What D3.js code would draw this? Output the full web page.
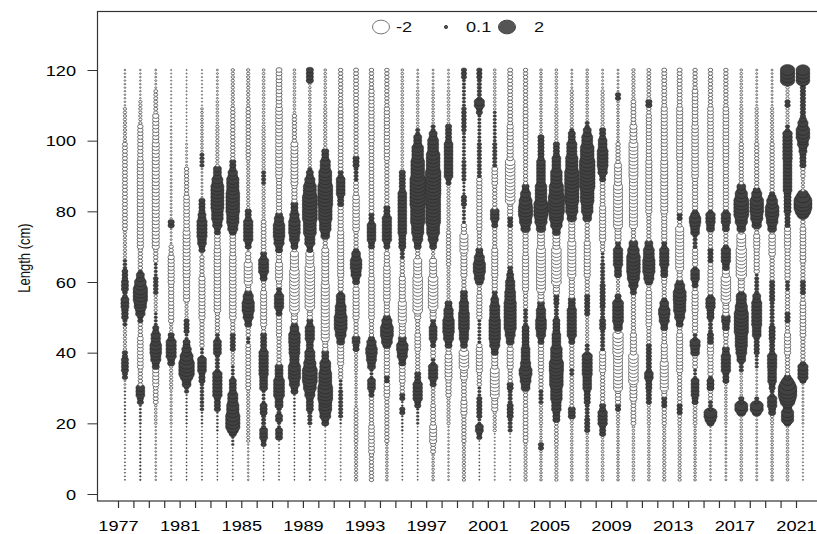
<!DOCTYPE html>
<html>
<head>
<meta charset="utf-8">
<script src="https://cdn.jsdelivr.net/npm/d3@7"></script>
<style>
  body { margin: 0; background: #fff; }
  svg { display: block; font-family: "Liberation Sans", Arial, sans-serif; }
</style>
</head>
<body>
<div class="chart"></div>
<script>
// Bubble plot of length-composition residuals, 1977-2021
var years = [1977, 1978, 1979, 1980, 1981, 1982, 1983, 1984, 1985, 1986, 1987, 1988, 1989, 1990, 1991,
    1992, 1993, 1994, 1995, 1996, 1997, 1998, 1999, 2000, 2001, 2002, 2003, 2004, 2005, 2006,
    2007, 2008, 2009, 2010, 2011, 2012, 2013, 2014, 2015, 2016, 2017, 2018, 2019, 2020, 2021];
var yearLabels = [1977, 1981, 1985, 1989, 1993, 1997, 2001, 2005, 2009, 2013, 2017, 2021];
var lengthTicks = [0, 20, 40, 60, 80, 100, 120];
var lengthBins = d3.range(4, 121);          // 1 cm length classes
var legendValues = [-2, 0.1, 2];

// residuals, per year, as [from length (cm), residual] steps
var residualSteps = [
  [[4,0.05],[20,0.08],[30,-0.1],[33,0.4],[35,0.6],[39,0.4],[41,-0.2],[48,0.3],[50,0.55],[53,0.7],[56,0.35],[58,0.6],[61,0.45],[64,0.25],[67,-0.2],[75,-0.35],[100,-0.2],[110,-0.08]],
  [[4,0.08],[20,0.12],[26,0.5],[28,0.8],[31,-0.3],[36,-0.45],[45,-0.3],[49,0.4],[51,0.9],[53,1.3],[55,1.6],[59,1.2],[61,0.7],[63,0.3],[64,-0.3],[70,-0.5],[95,-0.4],[105,-0.2],[112,-0.08]],
  [[4,-0.08],[20,-0.15],[26,-0.35],[31,-0.5],[36,0.6],[38,1.0],[40,1.2],[43,0.9],[46,0.5],[48,0.2],[52,-0.2],[57,0.35],[62,0.2],[66,-0.3],[70,-0.6],[100,-0.5],[108,-0.25],[115,-0.1]],
  [[4,-0.06],[20,-0.12],[30,-0.2],[37,0.6],[39,1.0],[44,0.5],[46,-0.2],[49,-0.4],[60,-0.5],[68,-0.3],[71,-0.1],[76,0.5],[78,-0.1],[90,-0.08],[105,-0.05]],
  [[4,0.05],[20,0.08],[29,0.3],[31,0.8],[33,1.3],[34,1.8],[38,1.4],[40,0.9],[42,0.6],[44,0.2],[46,0.4],[50,-0.2],[55,-0.5],[62,-0.6],[75,-0.45],[85,-0.3],[93,-0.1],[100,-0.05]],
  [[4,0.05],[20,0.1],[24,0.25],[32,0.5],[35,0.8],[39,0.2],[42,-0.3],[50,-0.5],[62,-0.3],[68,-0.1],[69,0.5],[71,0.8],[73,1.0],[78,0.7],[80,0.5],[84,-0.1],[93,0.3],[97,-0.15],[110,-0.05]],
  [[4,0.05],[18,0.1],[24,0.5],[28,0.9],[35,0.3],[40,0.7],[44,0.3],[46,-0.3],[52,-0.55],[70,-0.45],[74,0.5],[76,0.9],[78,1.2],[81,1.4],[88,1.1],[90,0.7],[93,-0.2],[105,-0.15],[112,-0.1]],
  [[4,0.05],[14,0.15],[17,0.6],[18,1.1],[19,1.6],[23,1.3],[26,1.0],[29,0.6],[33,0.2],[37,-0.2],[41,0.4],[46,-0.3],[50,-0.55],[68,-0.45],[74,0.6],[75,1.0],[77,1.3],[80,1.5],[86,1.3],[90,0.9],[92,0.5],[95,-0.3],[110,-0.2]],
  [[4,-0.08],[15,-0.2],[30,-0.35],[43,0.25],[45,-0.3],[48,0.6],[50,1.0],[52,1.3],[55,1.0],[57,0.6],[58,-0.4],[60,-0.7],[66,-0.4],[69,-0.1],[70,0.5],[72,0.9],[78,0.5],[81,-0.2],[95,-0.3],[110,-0.2]],
  [[4,0.05],[14,0.4],[16,0.7],[19,0.3],[23,0.6],[26,0.2],[30,0.7],[34,0.9],[41,0.5],[46,-0.3],[48,-0.5],[58,-0.3],[61,0.6],[63,1.0],[67,0.5],[69,-0.35],[78,-0.2],[88,0.3],[92,-0.2],[105,-0.15]],
  [[4,0.05],[16,0.6],[19,0.2],[21,0.6],[23,0.3],[25,0.7],[28,1.1],[33,0.7],[37,-0.3],[45,-0.4],[51,0.5],[53,0.9],[57,0.4],[59,-0.4],[61,-0.6],[66,-0.4],[69,0.6],[71,1.0],[73,1.2],[77,0.9],[79,0.6],[80,-0.4],[90,-0.55],[110,-0.45]],
  [[4,0.05],[20,0.1],[29,0.6],[31,1.0],[33,1.3],[37,0.9],[40,1.1],[43,1.2],[46,0.8],[48,0.5],[49,-0.5],[52,-0.9],[64,-0.7],[69,-0.3],[70,0.6],[72,1.0],[74,1.2],[78,0.9],[80,0.6],[83,-0.4],[88,-0.6],[100,-0.3],[108,-0.15]],
  [[4,0.06],[20,0.3],[24,0.6],[28,1.0],[30,1.4],[32,1.7],[36,1.3],[38,1.0],[41,0.6],[44,0.9],[48,0.5],[50,-0.4],[53,-0.9],[65,-0.7],[69,0.5],[71,1.0],[74,1.4],[78,1.7],[85,1.4],[88,1.0],[90,0.6],[92,0.3],[93,-0.2],[105,-0.15],[117,0.6]],
  [[4,-0.05],[20,0.6],[22,1.1],[24,1.4],[27,1.7],[31,1.4],[35,1.1],[38,0.6],[41,-0.4],[44,-0.7],[60,-0.6],[70,-0.3],[73,0.8],[75,1.2],[78,1.5],[82,1.7],[88,1.4],[92,1.0],[95,0.6],[98,-0.2],[110,-0.15]],
  [[4,-0.05],[20,0.1],[22,0.3],[30,0.2],[33,-0.3],[37,-0.5],[43,0.7],[45,1.1],[47,1.4],[51,1.1],[54,0.8],[57,0.3],[58,-0.4],[62,-0.5],[75,-0.4],[82,0.5],[85,0.8],[90,0.4],[92,-0.35],[110,-0.3]],
  [[4,-0.2],[15,-0.25],[25,-0.15],[35,-0.2],[41,0.5],[43,0.7],[45,-0.3],[50,-0.5],[59,-0.3],[60,0.6],[62,1.0],[64,1.2],[67,0.8],[69,0.4],[70,-0.3],[75,-0.55],[85,-0.35],[89,0.3],[93,0.5],[96,-0.3],[110,-0.35]],
  [[4,-0.3],[12,-0.45],[20,-0.3],[28,0.4],[30,0.7],[33,0.2],[36,0.7],[38,1.0],[40,1.2],[42,0.9],[44,0.5],[45,-0.3],[50,-0.45],[62,-0.35],[70,0.5],[72,0.8],[77,0.4],[80,-0.35],[100,-0.4],[115,-0.3]],
  [[4,-0.15],[15,-0.3],[28,-0.45],[32,0.4],[34,-0.4],[42,0.7],[43,1.1],[45,1.4],[48,1.0],[50,0.6],[51,-0.4],[55,-0.55],[65,-0.4],[69,-0.2],[70,0.5],[72,0.9],[79,0.5],[82,-0.3],[95,-0.4],[110,-0.3]],
  [[4,0.05],[18,0.1],[23,0.4],[25,0.1],[27,0.4],[29,-0.3],[32,-0.45],[37,0.6],[39,1.0],[41,1.2],[43,0.7],[45,-0.5],[49,-0.7],[55,-0.5],[62,-0.3],[67,0.3],[70,0.6],[74,0.8],[86,0.5],[92,-0.15],[105,-0.15]],
  [[4,0.05],[20,0.15],[25,0.5],[27,0.9],[32,0.5],[35,-0.3],[41,-0.45],[46,-0.3],[50,-0.5],[52,-0.9],[62,-0.7],[67,-0.3],[70,0.6],[72,1.0],[74,1.3],[77,1.6],[82,1.8],[90,1.5],[95,1.2],[99,0.7],[102,0.3],[104,-0.15],[115,-0.1]],
  [[4,-0.15],[12,-0.35],[15,-0.6],[20,-0.35],[26,-0.25],[31,0.5],[33,0.9],[37,0.3],[39,-0.35],[42,0.4],[44,0.7],[48,0.4],[50,-0.5],[53,-0.9],[62,-0.6],[67,-0.2],[70,0.6],[72,1.0],[74,1.4],[77,1.7],[85,1.8],[92,1.5],[97,1.1],[101,0.7],[103,0.3],[105,-0.15],[115,-0.1]],
  [[4,-0.08],[20,-0.2],[28,-0.4],[33,-0.6],[40,-0.4],[42,0.6],[44,1.0],[46,1.2],[50,0.9],[53,0.6],[55,-0.2],[65,-0.3],[75,-0.2],[88,0.4],[90,0.8],[100,0.5],[105,-0.15],[115,-0.1]],
  [[4,-0.2],[15,-0.3],[23,-0.5],[27,-0.35],[33,-0.6],[36,-0.9],[41,-0.5],[42,0.6],[44,0.9],[47,1.1],[52,0.9],[55,0.6],[58,-0.3],[62,-0.5],[69,-0.7],[74,-0.4],[77,0.2],[82,0.4],[85,0.15],[89,0.3],[95,0.2],[103,0.35],[110,0.2],[118,0.4]],
  [[4,0.05],[16,0.4],[18,0.7],[20,0.2],[22,0.4],[28,0.2],[31,-0.3],[35,-0.5],[42,-0.4],[43,0.2],[50,-0.4],[57,-0.3],[60,0.7],[61,1.0],[63,1.3],[66,1.0],[68,0.6],[70,-0.3],[75,-0.4],[90,0.3],[100,0.2],[108,0.5],[110,1.0],[112,0.3],[118,0.4]],
  [[4,-0.05],[18,-0.2],[24,-0.5],[28,-0.8],[36,-0.5],[40,0.6],[42,1.0],[44,1.2],[50,1.0],[54,0.7],[56,0.4],[58,-0.4],[62,-0.5],[70,-0.3],[76,0.5],[78,0.8],[81,-0.3],[88,-0.45],[93,0.3],[100,0.2],[109,-0.15]],
  [[4,-0.05],[18,0.3],[22,0.5],[26,0.3],[30,0.5],[32,-0.3],[36,-0.5],[42,-0.3],[43,0.7],[45,1.0],[47,1.3],[55,1.1],[58,0.9],[61,0.6],[63,0.4],[65,-0.35],[70,-0.3],[76,0.4],[79,-0.4],[83,-0.9],[95,-0.5],[105,-0.35]],
  [[4,-0.2],[15,-0.35],[25,-0.3],[30,0.8],[32,1.1],[34,1.4],[36,1.0],[38,0.8],[42,0.6],[48,0.3],[53,-0.3],[58,-0.5],[68,-0.4],[75,0.9],[77,1.3],[79,1.6],[82,1.4],[84,1.0],[86,0.6],[88,-0.3],[100,-0.35],[110,-0.3]],
  [[4,-0.15],[13,0.4],[15,-0.15],[20,-0.2],[26,0.3],[30,-0.3],[35,-0.4],[43,0.5],[45,0.9],[47,1.1],[50,0.9],[53,0.6],[55,-0.5],[58,-0.8],[70,-0.6],[75,0.9],[77,1.3],[79,1.6],[83,1.2],[88,0.8],[95,0.5],[102,-0.15],[110,-0.15]],
  [[4,-0.2],[14,-0.25],[21,0.6],[24,0.9],[27,1.2],[31,1.5],[35,1.6],[38,1.2],[42,0.8],[46,0.6],[50,0.3],[54,0.4],[57,-0.5],[60,-0.9],[70,-0.6],[74,0.7],[76,1.2],[78,1.6],[80,1.9],[85,1.6],[88,1.2],[92,0.8],[96,0.5],[100,-0.2],[110,-0.15]],
  [[4,-0.15],[20,-0.2],[22,0.6],[25,-0.25],[34,0.3],[36,-0.3],[43,0.5],[45,0.9],[53,0.6],[56,-0.4],[62,-0.7],[72,-0.5],[78,0.9],[80,1.3],[83,1.6],[92,1.3],[96,1.0],[100,0.6],[103,0.3],[104,-0.2],[115,-0.1]],
  [[4,-0.15],[18,0.4],[22,0.3],[26,0.5],[30,0.8],[34,1.0],[40,0.3],[43,-0.2],[51,0.4],[57,-0.3],[62,-0.5],[72,-0.3],[78,0.8],[80,1.2],[83,1.5],[87,1.8],[95,1.5],[99,1.1],[102,0.7],[104,0.3],[106,-0.15]],
  [[4,-0.15],[17,0.5],[20,0.9],[24,0.5],[26,-0.3],[35,-0.5],[41,0.3],[47,0.5],[50,0.3],[53,0.4],[60,0.3],[66,0.2],[69,-0.3],[72,-0.5],[82,-0.35],[89,0.5],[91,0.9],[93,1.1],[98,0.8],[101,0.5],[104,-0.2],[115,-0.1]],
  [[4,-0.15],[20,-0.2],[24,0.4],[26,-0.4],[30,-0.8],[40,-1.0],[46,-0.4],[47,0.8],[49,1.1],[55,0.5],[57,-0.2],[62,0.6],[65,0.9],[70,0.4],[72,-0.5],[76,-0.8],[88,-0.6],[94,-0.3],[100,-0.15],[112,0.4],[114,-0.1]],
  [[4,-0.15],[20,-0.35],[27,-0.6],[32,-0.9],[40,-0.5],[46,-0.3],[57,0.5],[59,0.9],[61,1.3],[63,1.5],[68,1.2],[70,0.8],[72,-0.3],[76,-0.7],[90,-0.8],[100,-0.6],[105,-0.35],[112,-0.2]],
  [[4,-0.15],[20,-0.2],[26,0.4],[30,0.5],[33,0.8],[35,0.4],[43,-0.3],[48,-0.45],[58,-0.3],[60,0.7],[61,1.0],[63,1.3],[67,1.1],[70,0.7],[72,-0.3],[80,-0.5],[95,-0.4],[108,-0.3],[110,0.5],[112,-0.25]],
  [[4,-0.2],[20,-0.3],[25,0.4],[28,-0.4],[30,-0.7],[38,-0.5],[43,-0.35],[47,0.6],[49,1.0],[51,1.2],[53,0.8],[55,0.4],[56,-0.3],[60,-0.4],[62,0.6],[65,0.9],[70,0.4],[72,-0.4],[80,-0.6],[95,-0.5],[110,-0.35]],
  [[4,-0.2],[20,-0.25],[23,0.4],[26,-0.3],[35,-0.5],[46,-0.35],[48,0.6],[50,1.0],[52,1.3],[55,1.4],[58,1.0],[60,0.6],[61,-0.4],[64,-0.7],[76,-0.3],[78,0.4],[80,-0.4],[95,-0.5],[110,-0.35]],
  [[4,-0.15],[20,-0.25],[26,0.5],[28,0.7],[33,0.2],[36,-0.35],[40,0.8],[42,1.0],[44,0.3],[46,-0.4],[52,-0.5],[58,-0.3],[59,0.5],[61,0.8],[64,0.3],[65,-0.4],[70,0.3],[74,0.8],[76,1.0],[77,1.2],[79,0.8],[80,0.4],[81,-0.4],[90,-0.55],[105,-0.45],[115,-0.3]],
  [[4,-0.08],[20,0.6],[21,1.1],[22,1.4],[24,0.3],[27,-0.3],[30,0.6],[33,0.3],[34,-0.4],[40,-0.5],[43,0.5],[46,0.3],[50,0.6],[53,0.9],[56,0.4],[57,-0.4],[64,-0.35],[66,0.4],[70,-0.3],[75,0.7],[77,0.9],[80,0.3],[81,-0.35],[95,-0.45],[110,-0.3]],
  [[4,-0.1],[20,-0.15],[32,0.5],[35,0.9],[40,0.6],[42,-0.3],[45,-0.4],[47,0.6],[49,0.8],[51,-0.5],[55,-0.9],[62,-0.6],[64,0.6],[66,0.9],[70,0.4],[71,-0.3],[75,0.6],[77,0.9],[80,0.4],[81,-0.4],[95,-0.45],[110,-0.3]],
  [[4,-0.15],[20,-0.15],[23,0.8],[24,1.4],[26,0.4],[28,-0.15],[35,0.3],[38,0.8],[40,1.1],[42,1.3],[46,1.6],[52,1.3],[54,1.0],[57,0.4],[58,-0.5],[62,-1.0],[70,-0.8],[74,-0.3],[75,0.8],[77,1.3],[79,1.7],[84,1.3],[86,0.8],[88,-0.3],[100,-0.2],[110,-0.15]],
  [[4,-0.1],[20,-0.1],[23,0.8],[24,1.4],[26,0.3],[28,-0.1],[36,0.2],[40,0.4],[45,0.8],[48,1.0],[55,0.7],[57,0.3],[62,0.2],[63,-0.4],[70,-0.5],[74,-0.3],[76,0.9],[78,1.3],[80,1.5],[84,1.0],[86,0.6],[87,-0.3],[100,-0.2],[110,-0.1]],
  [[4,-0.15],[20,-0.2],[23,0.6],[25,0.9],[28,0.3],[30,0.5],[32,0.8],[36,0.9],[40,0.4],[44,0.5],[48,0.3],[55,0.4],[61,-0.3],[68,-0.55],[74,-0.3],[75,0.8],[77,1.2],[79,1.5],[82,1.1],[84,0.7],[85,0.4],[86,-0.3],[100,-0.2],[110,-0.1]],
  [[4,-0.15],[20,0.6],[21,1.3],[24,0.8],[26,1.6],[27,2.0],[28,2.3],[31,1.8],[32,1.2],[33,0.6],[34,-0.3],[40,-0.5],[46,-0.3],[49,0.4],[52,-0.3],[58,0.3],[61,-0.4],[70,-0.5],[76,0.4],[80,0.6],[86,0.8],[95,0.9],[103,0.3],[105,-0.2],[110,0.4],[112,-0.2],[117,1.6]],
  [[4,-0.05],[20,-0.1],[32,0.5],[33,1.0],[37,0.4],[38,-0.3],[45,-0.45],[55,-0.3],[57,0.4],[61,-0.3],[66,-0.45],[76,-0.3],[79,1.2],[80,1.8],[81,2.2],[84,1.6],[85,1.0],[86,-0.2],[90,-0.3],[93,0.5],[97,0.7],[99,1.1],[101,1.5],[104,1.0],[106,0.6],[107,0.4],[117,1.5]]
];

var svgWidth = 817;
var svgHeight = 534;
var stretch = 1.3;   // the picture is wider than tall: glyphs and bubbles are stretched sideways
var openStroke = "#5e5e5e";
var filledColor = "#424242";

function residualAt(steps, len) {
    var v = steps[0][1];
    steps.forEach(function(s) { if (s[0] <= len) v = s[1]; });
    return v;
}

var svg = d3.select(".chart")
    .append("svg")
    .attr("width", svgWidth)
    .attr("height", svgHeight);

var xScale = d3.scaleLinear().domain([1977, 2021]).range([118, 796]);
var yScale = d3.scaleLinear().domain([0, 120]).range([494, 70]);
var rScale = d3.scalePow().exponent(0.7).domain([0, 2]).range([0, 8.5]);

// frame
svg.append("rect")
    .attr("x", 97.5).attr("y", 11.5)
    .attr("width", 740).attr("height", 489.5)
    .attr("fill", "none").attr("stroke", "#333").attr("stroke-width", 1.2);

// bubbles
var points = [];
years.forEach(function(year, i) {
    lengthBins.forEach(function(len) {
        points.push({ year: year, len: len, value: residualAt(residualSteps[i], len) });
    });
});

var bubbles = svg.append("g");
bubbles.selectAll("ellipse")
    .data(points)
    .enter()
    .append("ellipse")
    .attr("cx", function(d) { return xScale(d.year + 0.45); })
    .attr("cy", function(d) { return yScale(d.len); })
    .attr("rx", function(d) { return rScale(Math.abs(d.value)); })
    .attr("ry", function(d) { return rScale(Math.abs(d.value)) / stretch; })
    .attr("fill", function(d) { return d.value < 0 ? "#fff" : filledColor; })
    .attr("stroke", function(d) { return d.value < 0 ? openStroke : "#222"; })
    .attr("stroke-width", function(d) { return d.value < 0 ? 0.9 : 0.5; });

// axes
var leftAxis = d3.axisLeft(yScale).tickValues(lengthTicks).tickSize(10).tickPadding(0);
var yAxisG = svg.append("g")
    .attr("transform", "translate(97.5,0)")
    .call(leftAxis);
yAxisG.select(".domain").remove();
yAxisG.selectAll("line").attr("stroke", "#333");
yAxisG.selectAll("text")
    .attr("x", -21.5 / stretch)
    .attr("dy", "0.36em")
    .attr("transform", "scale(" + stretch + ",1)")
    .attr("font-size", 14)
    .attr("fill", "#000")
    .attr("font-family", "Liberation Sans, Arial, sans-serif");

var bottomAxis = d3.axisBottom(xScale)
    .tickValues(years)
    .tickSize(7)
    .tickFormat(function(d) { return yearLabels.indexOf(d) >= 0 ? d : ""; });
var xAxisG = svg.append("g")
    .attr("transform", "translate(0,501)")
    .call(bottomAxis);
xAxisG.select(".domain").remove();
xAxisG.selectAll("line").attr("stroke", "#333").attr("stroke-width", 1.2);
xAxisG.selectAll("text")
    .attr("y", 30)
    .attr("dy", 0)
    .attr("transform", "scale(" + stretch + ",1)")
    .attr("font-size", 14)
    .attr("fill", "#000")
    .attr("font-family", "Liberation Sans, Arial, sans-serif");

// y label
svg.append("text")
    .attr("transform", "translate(30,258) rotate(-90) scale(1," + stretch + ")")
    .attr("text-anchor", "middle")
    .attr("font-size", 13)
    .attr("fill", "#111")
    .text("Length (cm)");

// legend
var legendX = [381, 446, 507];
var legendText = ["-2", "0.1", "2"];
var legendTextX = [396, 466, 534];
var legend = svg.append("g");
legend.selectAll("ellipse")
    .data(legendValues)
    .enter()
    .append("ellipse")
    .attr("cx", function(d, i) { return legendX[i]; })
    .attr("cy", 27)
    .attr("rx", function(d) { return Math.max(1.6, rScale(Math.abs(d))); })
    .attr("ry", function(d) { return Math.max(1.6, rScale(Math.abs(d)) / stretch * 1.05); })
    .attr("fill", function(d) { return d < 0 ? "#fff" : "#555"; })
    .attr("stroke", function(d) { return d < 0 ? "#777" : "#444"; })
    .attr("stroke-width", 1);
legend.selectAll("g.lt")
    .data(legendText)
    .enter()
    .append("g")
    .attr("class", "lt")
    .attr("transform", function(d, i) { return "translate(" + legendTextX[i] + ",32) scale(" + stretch + ",1)"; })
    .append("text")
    .attr("font-size", 14)
    .attr("fill", "#111")
    .text(function(d) { return d; });
</script>
</body>
</html>
